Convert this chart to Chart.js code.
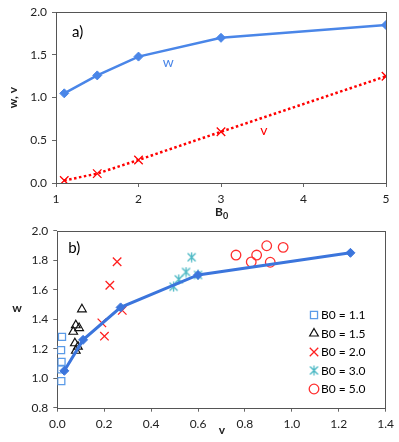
<!DOCTYPE html>
<html>
<head>
<meta charset="utf-8">
<script src="https://cdn.jsdelivr.net/npm/chart.js@4.4.0/dist/chart.umd.min.js"></script>
<style>
html, body { margin: 0; padding: 0; background: #fff; }
#wrap { position: relative; width: 399px; height: 442px; overflow: hidden; }
.box { position: absolute; left: 0; width: 399px; }
#boxA { top: 0; height: 225px; }
#boxB { top: 215px; height: 227px; }
</style>
</head>
<body>
<div id="wrap">
  <div class="box" id="boxA"><canvas id="chartA" width="399" height="225"></canvas></div>
  <div class="box" id="boxB"><canvas id="chartB" width="399" height="227"></canvas></div>
</div>
<script>
// panel a) : mean w and v against B0
const b0 = [1.1, 1.5, 2, 3, 5];
const wMean = [1.05, 1.26, 1.48, 1.70, 1.85];
const vMean = [0.03, 0.11, 0.27, 0.60, 1.25];

// panel b) : individual runs, v (x) and w (y) per B0
const v11 = [0.020, 0.016, 0.018, 0.017, 0.017];
const w11 = [1.28, 1.19, 1.11, 1.06, 0.98];
const v15 = [0.105, 0.079, 0.093, 0.068, 0.075, 0.088, 0.079];
const w15 = [1.467, 1.359, 1.340, 1.315, 1.237, 1.214, 1.186];
const v20 = [0.255, 0.224, 0.277, 0.190, 0.201];
const w20 = [1.79, 1.63, 1.46, 1.375, 1.285];
const v30 = [0.573, 0.549, 0.518, 0.496, 0.600];
const w30 = [1.82, 1.72, 1.67, 1.62, 1.70];
const v50 = [0.762, 0.893, 0.850, 0.827, 0.908, 0.963];
const w50 = [1.835, 1.898, 1.835, 1.788, 1.786, 1.887];
const groupLabels = ['B0 = 1.1', 'B0 = 1.5', 'B0 = 2.0', 'B0 = 3.0', 'B0 = 5.0'];

const FONT = 'Lato, "Liberation Sans", sans-serif';
const TXT = '#222';
const AXIS = '#666';

function pts(xs, ys) {
    return xs.map((x, i) => ({ x: x, y: ys[i] }));
}

// excel style asterisk marker (x plus vertical bar)
function starMarker(color) {
    const c = document.createElement('canvas');
    c.width = 11; c.height = 11;
    const g = c.getContext('2d');
    g.strokeStyle = color;
    g.lineWidth = 1.3;
    g.beginPath();
    g.moveTo(1.5, 1.5); g.lineTo(9.5, 9.5);
    g.moveTo(9.5, 1.5); g.lineTo(1.5, 9.5);
    g.moveTo(5.5, 0.5); g.lineTo(5.5, 10.5);
    g.stroke();
    return c;
}

const frame = {
    id: 'frame',
    beforeDatasetsDraw(chart) {
        const a = chart.chartArea;
        const ctx = chart.ctx;
        ctx.save();
        ctx.strokeStyle = '#555';
        ctx.lineWidth = 1;
        ctx.strokeRect(Math.round(a.left) + 0.5, Math.round(a.top) + 0.5,
            Math.round(a.right - a.left), Math.round(a.bottom - a.top));
        ctx.restore();
    }
};

function axisOpts(min, max, step, dec, size) {
    return {
        type: 'linear', min: min, max: max,
        border: { display: false },
        grid: { drawOnChartArea: false, drawTicks: true, tickLength: 4, color: AXIS },
        ticks: {
            stepSize: step, padding: 5, color: TXT,
            font: { family: FONT, size: 12 },
            callback: v => Number(v).toFixed(dec)
        },
        afterFit: size
    };
}

// ---------- chart a ----------
const notesA = {
    id: 'notesA',
    afterDraw(chart) {
        const ctx = chart.ctx, a = chart.chartArea;
        const xs = chart.scales.x, ys = chart.scales.y;
        ctx.save();
        ctx.textBaseline = 'middle';
        ctx.fillStyle = '#000';
        ctx.font = '15px ' + FONT;
        ctx.textAlign = 'left';
        ctx.fillText('a)', a.left + 16, a.top + 20);
        ctx.textAlign = 'center';
        ctx.font = '14px ' + FONT;
        ctx.fillStyle = '#4a86e8';
        ctx.fillText('w', xs.getPixelForValue(2.36), ys.getPixelForValue(1.41));
        ctx.fillStyle = '#ff0000';
        ctx.fillText('v', xs.getPixelForValue(3.52), ys.getPixelForValue(0.61));
        ctx.fillStyle = TXT;
        ctx.font = 'bold 12px ' + FONT;
        const cx = (a.left + a.right) / 2;
        ctx.textAlign = 'right';
        ctx.fillText('B', cx + 2, 212);
        ctx.font = 'bold 9px ' + FONT;
        ctx.textAlign = 'left';
        ctx.fillText('0', cx + 2, 216);
        ctx.translate(13, (a.top + a.bottom) / 2);
        ctx.rotate(-Math.PI / 2);
        ctx.textAlign = 'center';
        ctx.font = 'bold 12px ' + FONT;
        ctx.fillText('w, v', 0, 0);
        ctx.restore();
    }
};

new Chart(document.getElementById('chartA'), {
    type: 'scatter',
    data: {
        datasets: [{
            label: 'w',
            data: pts(b0, wMean),
            showLine: true,
            borderColor: '#4a86e8',
            backgroundColor: '#4a86e8',
            borderWidth: 2.5,
            pointStyle: 'rectRot',
            pointRadius: 4.5,
            pointBorderWidth: 1
        }, {
            label: 'v',
            data: pts(b0, vMean),
            showLine: true,
            borderColor: '#ff0000',
            backgroundColor: '#ff0000',
            borderWidth: 2.5,
            borderDash: [2.5, 2.5],
            pointStyle: 'crossRot',
            pointRadius: 6,
            pointBorderWidth: 1.3
        }]
    },
    options: {
        responsive: false,
        animation: false,
        devicePixelRatio: 1,
        layout: { padding: { left: 0, top: 10, right: 13, bottom: 0 } },
        plugins: { legend: { display: false }, tooltip: { enabled: false } },
        scales: {
            x: axisOpts(1, 5, 1, 0, s => { s.height = 42; }),
            y: axisOpts(0, 2, 0.5, 1, s => { s.width = 56; })
        }
    },
    plugins: [frame, notesA]
});

// ---------- chart b ----------
const notesB = {
    id: 'notesB',
    afterDraw(chart) {
        const ctx = chart.ctx, a = chart.chartArea;
        ctx.save();
        ctx.textBaseline = 'middle';
        ctx.fillStyle = '#000';
        ctx.font = '15px ' + FONT;
        ctx.textAlign = 'left';
        ctx.fillText('b)', a.left + 11, a.top + 17);
        ctx.fillStyle = TXT;
        ctx.font = 'bold 12px ' + FONT;
        ctx.textAlign = 'center';
        ctx.fillText('w', 17, 93);
        ctx.fillText('v', 222, 215);
        // legend inside the plot
        ctx.font = '12px ' + FONT;
        ctx.textAlign = 'left';
        chart.data.datasets.forEach((ds, i) => {
            if (i === 0) return;
            const y = 100 + (i - 1) * 18.5;
            ctx.strokeStyle = ds.borderColor;
            ctx.fillStyle = ds.backgroundColor;
            ctx.lineWidth = ds.pointBorderWidth;
            Chart.helpers.drawPoint(ctx, {
                pointStyle: ds.pointStyle, radius: ds.pointRadius,
                rotation: 0, borderWidth: ds.pointBorderWidth
            }, 314, y);
            ctx.fillStyle = '#000';
            ctx.fillText(groupLabels[i - 1], 321, y + 0.5);
        });
        ctx.restore();
    }
};

new Chart(document.getElementById('chartB'), {
    type: 'scatter',
    data: {
        datasets: [{
            label: 'mean',
            data: pts(vMean, wMean),
            showLine: true,
            borderColor: '#3b75dc',
            backgroundColor: '#3b75dc',
            borderWidth: 3,
            pointStyle: 'rectRot',
            pointRadius: 4.5,
            pointBorderWidth: 1
        }, {
            label: groupLabels[0],
            data: pts(v11, w11),
            borderColor: '#5b9be8',
            backgroundColor: 'rgba(0,0,0,0)',
            pointStyle: 'rect',
            pointRadius: 5,
            pointBorderWidth: 1.3
        }, {
            label: groupLabels[1],
            data: pts(v15, w15),
            borderColor: '#111',
            backgroundColor: 'rgba(0,0,0,0)',
            pointStyle: 'triangle',
            pointRadius: 5,
            pointBorderWidth: 1.2
        }, {
            label: groupLabels[2],
            data: pts(v20, w20),
            borderColor: '#ff2020',
            backgroundColor: 'rgba(0,0,0,0)',
            pointStyle: 'crossRot',
            pointRadius: 6,
            pointBorderWidth: 1.3
        }, {
            label: groupLabels[3],
            data: pts(v30, w30),
            borderColor: '#4bb8c4',
            backgroundColor: 'rgba(0,0,0,0)',
            pointStyle: starMarker('#4bb8c4'),
            pointRadius: 5,
            pointBorderWidth: 1.3
        }, {
            label: groupLabels[4],
            data: pts(v50, w50),
            borderColor: '#ff3030',
            backgroundColor: 'rgba(0,0,0,0)',
            pointStyle: 'circle',
            pointRadius: 4.8,
            pointBorderWidth: 1.3
        }]
    },
    options: {
        responsive: false,
        animation: false,
        devicePixelRatio: 1,
        layout: { padding: { left: 0, top: 15.7, right: 12, bottom: 0 } },
        plugins: { legend: { display: false }, tooltip: { enabled: false } },
        scales: {
            x: axisOpts(0, 1.4, 0.2, 1, s => { s.height = 34.3; }),
            y: axisOpts(0.8, 2.0, 0.2, 1, s => { s.width = 57.3; })
        }
    },
    plugins: [frame, notesB]
});
</script>
</body>
</html>
